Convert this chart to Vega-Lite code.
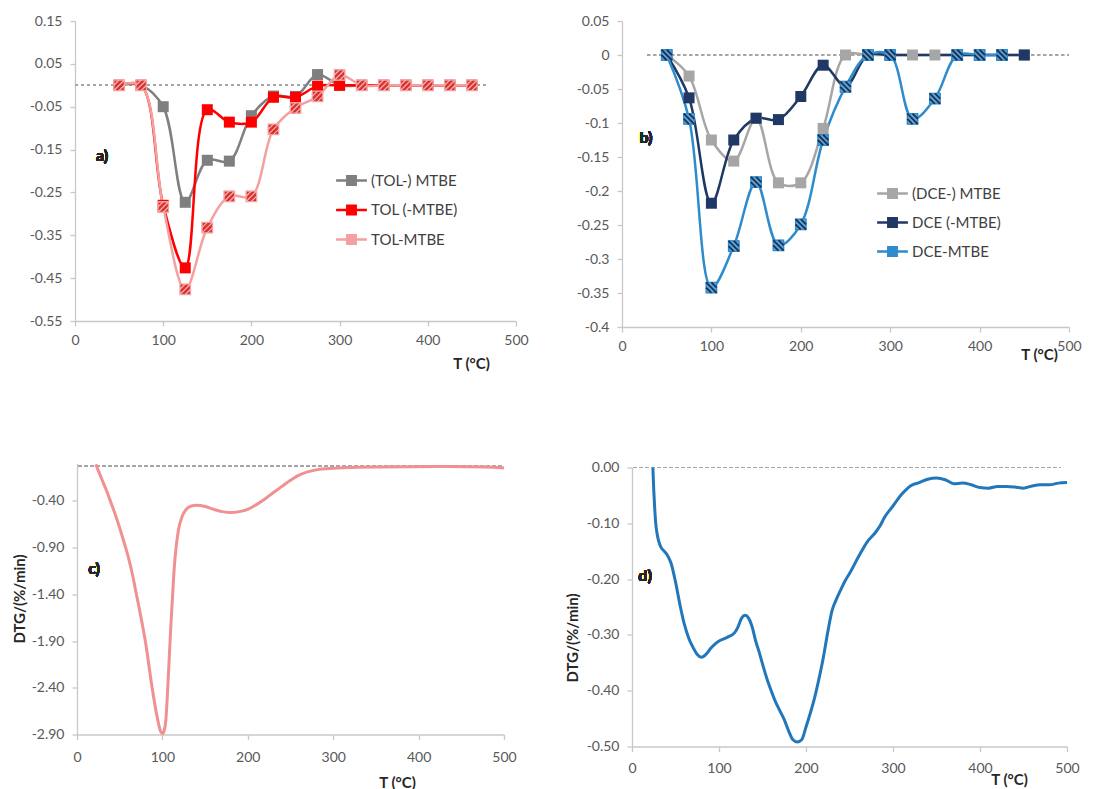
{
  "$schema": "https://vega.github.io/schema/vega-lite/v6.json",
  "background": "white",
  "padding": {"left": 12, "top": 14, "right": 5, "bottom": 0},
  "config": {
    "view": {"stroke": null},
    "font": "Lato",
    "axis": {"grid": false, "domainColor": "#c8c8c8", "domainWidth": 1.3, "tickColor": "#c8c8c8", "tickWidth": 1.3, "tickSize": 5, "labelFont": "Lato", "labelFontSize": 14, "labelColor": "#595959", "labelFlush": false, "labelOverlap": false, "titleFont": "Lato", "titleFontSize": 15, "titleFontWeight": "bold", "titleColor": "#262626"},
    "legend": {"labelFont": "Lato", "labelFontSize": 15, "labelColor": "#404040"}
  },
  "bounds": "flush",
  "columns": 2,
  "align": "each",
  "spacing": {"row": 136.5, "column": 106},
  "resolve": {"scale": {"color": "independent", "x": "independent", "y": "independent"}, "legend": {"color": "independent"}},
  "concat": [
    {
      "width": 441, "height": 300,
      "data": {"values": [
        {"s": "(TOL-) MTBE", "T": 50, "v": 0}, {"s": "(TOL-) MTBE", "T": 75, "v": 0}, {"s": "(TOL-) MTBE", "T": 100, "v": -0.05}, {"s": "(TOL-) MTBE", "T": 125, "v": -0.273}, {"s": "(TOL-) MTBE", "T": 150, "v": -0.175}, {"s": "(TOL-) MTBE", "T": 175, "v": -0.177}, {"s": "(TOL-) MTBE", "T": 200, "v": -0.071}, {"s": "(TOL-) MTBE", "T": 225, "v": -0.025}, {"s": "(TOL-) MTBE", "T": 250, "v": -0.026}, {"s": "(TOL-) MTBE", "T": 275, "v": 0.025}, {"s": "(TOL-) MTBE", "T": 300, "v": 0}, {"s": "(TOL-) MTBE", "T": 325, "v": 0}, {"s": "(TOL-) MTBE", "T": 350, "v": 0}, {"s": "(TOL-) MTBE", "T": 375, "v": 0}, {"s": "(TOL-) MTBE", "T": 400, "v": 0}, {"s": "(TOL-) MTBE", "T": 425, "v": 0}, {"s": "(TOL-) MTBE", "T": 450, "v": 0},
        {"s": "TOL (-MTBE)", "T": 50, "v": 0}, {"s": "TOL (-MTBE)", "T": 75, "v": 0}, {"s": "TOL (-MTBE)", "T": 100, "v": -0.28}, {"s": "TOL (-MTBE)", "T": 125, "v": -0.426}, {"s": "TOL (-MTBE)", "T": 150, "v": -0.057}, {"s": "TOL (-MTBE)", "T": 175, "v": -0.086}, {"s": "TOL (-MTBE)", "T": 200, "v": -0.086}, {"s": "TOL (-MTBE)", "T": 225, "v": -0.028}, {"s": "TOL (-MTBE)", "T": 250, "v": -0.028}, {"s": "TOL (-MTBE)", "T": 275, "v": -0.002}, {"s": "TOL (-MTBE)", "T": 300, "v": 0}, {"s": "TOL (-MTBE)", "T": 325, "v": 0}, {"s": "TOL (-MTBE)", "T": 350, "v": 0}, {"s": "TOL (-MTBE)", "T": 375, "v": 0}, {"s": "TOL (-MTBE)", "T": 400, "v": 0}, {"s": "TOL (-MTBE)", "T": 425, "v": 0}, {"s": "TOL (-MTBE)", "T": 450, "v": 0},
        {"s": "TOL-MTBE", "T": 50, "v": 0}, {"s": "TOL-MTBE", "T": 75, "v": 0}, {"s": "TOL-MTBE", "T": 100, "v": -0.284}, {"s": "TOL-MTBE", "T": 125, "v": -0.476}, {"s": "TOL-MTBE", "T": 150, "v": -0.332}, {"s": "TOL-MTBE", "T": 175, "v": -0.259}, {"s": "TOL-MTBE", "T": 200, "v": -0.259}, {"s": "TOL-MTBE", "T": 225, "v": -0.103}, {"s": "TOL-MTBE", "T": 250, "v": -0.053}, {"s": "TOL-MTBE", "T": 275, "v": -0.026}, {"s": "TOL-MTBE", "T": 300, "v": 0.024}, {"s": "TOL-MTBE", "T": 325, "v": 0}, {"s": "TOL-MTBE", "T": 350, "v": 0}, {"s": "TOL-MTBE", "T": 375, "v": 0}, {"s": "TOL-MTBE", "T": 400, "v": 0}, {"s": "TOL-MTBE", "T": 425, "v": 0}, {"s": "TOL-MTBE", "T": 450, "v": 0}
      ]},
      "layer": [
        {"mark": {"type": "rule", "stroke": "#a6a6a6", "strokeDash": [3, 3], "strokeWidth": 1},
         "encoding": {"x": {"datum": 0, "type": "quantitative"}, "x2": {"datum": 467}, "y": {"datum": 0, "type": "quantitative"}}},
        {"mark": {"type": "line", "interpolate": "catmull-rom", "strokeWidth": 2.5},
         "encoding": {
           "x": {"field": "T", "type": "quantitative", "scale": {"domain": [0, 500], "nice": false}, "axis": {"values": [0, 100, 200, 300, 400, 500], "tickCount": 20, "format": "d", "labelPadding": 7, "labelOverlap": false, "title": "T (°C)", "titleX": 396, "titleY": 42, "titleAlign": "center", "titleBaseline": "middle"}},
           "y": {"field": "v", "type": "quantitative", "scale": {"domain": [-0.55, 0.15], "nice": false, "zero": false}, "axis": {"values": [0.15, 0.05, -0.05, -0.15, -0.25, -0.35, -0.45, -0.55], "tickCount": 20, "labelExpr": "replace(format(datum.value, '.2f'), '\u2212', '-')", "labelPadding": 8, "labelOverlap": false, "title": null}},
           "color": {"field": "s", "type": "nominal", "scale": {"domain": ["(TOL-) MTBE", "TOL (-MTBE)", "TOL-MTBE"], "range": ["#7f7f7f", "#ff0000", "#f4a0a0"]},
             "legend": {"orient": "none", "legendX": 261, "legendY": 144, "title": null, "symbolType": "M-1.1,0H1.1M-0.3,-0.3H0.3V0.3H-0.3Z", "symbolSize": 784, "symbolStrokeWidth": 2.5, "rowPadding": 4.5, "labelOffset": 4}}
         }},
        {"mark": {"type": "point", "shape": "square", "filled": true, "size": 121, "opacity": 1},
         "encoding": {"x": {"field": "T", "type": "quantitative"}, "y": {"field": "v", "type": "quantitative"},
           "color": {"field": "s", "type": "nominal", "legend": {"orient": "none", "legendX": 261, "legendY": 144, "title": null, "symbolType": "M-1.1,0H1.1M-0.3,-0.3H0.3V0.3H-0.3Z", "symbolSize": 784, "symbolStrokeWidth": 2.5, "rowPadding": 4.5, "labelOffset": 4}}}},
        {"transform": [{"filter": "datum.s === 'TOL-MTBE'"}],
         "mark": {"type": "point", "shape": "square", "filled": true, "size": 110, "fill": "#d8312e", "stroke": "#f4a0a0", "strokeWidth": 1.3, "opacity": 1},
         "encoding": {"x": {"field": "T", "type": "quantitative"}, "y": {"field": "v", "type": "quantitative"}}},
        {"transform": [{"filter": "datum.s === 'TOL-MTBE'"}],
         "mark": {"type": "point", "shape": "M-1,0L0,-1M-1,1L1,-1M0,1L1,0", "filled": false, "size": 110, "stroke": "#f7b3b3", "strokeWidth": 1.2, "opacity": 1},
         "encoding": {"x": {"field": "T", "type": "quantitative"}, "y": {"field": "v", "type": "quantitative"}}},
        {"mark": {"type": "text", "font": "Lato", "fontSize": 16, "fontWeight": "bold", "color": "#262626"},
         "encoding": {"x": {"datum": 30.6, "type": "quantitative"}, "y": {"datum": -0.165, "type": "quantitative"}, "text": {"value": "a)"}}}
      ]
    },
    {
      "width": 447, "height": 306,
      "data": {"values": [
        {"s": "(DCE-) MTBE", "T": 50, "v": 0}, {"s": "(DCE-) MTBE", "T": 75, "v": -0.031}, {"s": "(DCE-) MTBE", "T": 100, "v": -0.125}, {"s": "(DCE-) MTBE", "T": 125, "v": -0.156}, {"s": "(DCE-) MTBE", "T": 150, "v": -0.093}, {"s": "(DCE-) MTBE", "T": 175, "v": -0.188}, {"s": "(DCE-) MTBE", "T": 200, "v": -0.188}, {"s": "(DCE-) MTBE", "T": 225, "v": -0.108}, {"s": "(DCE-) MTBE", "T": 250, "v": 0}, {"s": "(DCE-) MTBE", "T": 275, "v": 0}, {"s": "(DCE-) MTBE", "T": 300, "v": 0}, {"s": "(DCE-) MTBE", "T": 325, "v": 0}, {"s": "(DCE-) MTBE", "T": 350, "v": 0}, {"s": "(DCE-) MTBE", "T": 375, "v": 0}, {"s": "(DCE-) MTBE", "T": 400, "v": 0}, {"s": "(DCE-) MTBE", "T": 425, "v": 0}, {"s": "(DCE-) MTBE", "T": 450, "v": 0},
        {"s": "DCE (-MTBE)", "T": 50, "v": 0}, {"s": "DCE (-MTBE)", "T": 75, "v": -0.063}, {"s": "DCE (-MTBE)", "T": 100, "v": -0.218}, {"s": "DCE (-MTBE)", "T": 125, "v": -0.125}, {"s": "DCE (-MTBE)", "T": 150, "v": -0.093}, {"s": "DCE (-MTBE)", "T": 175, "v": -0.095}, {"s": "DCE (-MTBE)", "T": 200, "v": -0.061}, {"s": "DCE (-MTBE)", "T": 225, "v": -0.015}, {"s": "DCE (-MTBE)", "T": 250, "v": -0.046}, {"s": "DCE (-MTBE)", "T": 275, "v": 0}, {"s": "DCE (-MTBE)", "T": 300, "v": 0}, {"s": "DCE (-MTBE)", "T": 375, "v": 0}, {"s": "DCE (-MTBE)", "T": 400, "v": 0}, {"s": "DCE (-MTBE)", "T": 425, "v": 0}, {"s": "DCE (-MTBE)", "T": 450, "v": 0},
        {"s": "DCE-MTBE", "T": 50, "v": 0}, {"s": "DCE-MTBE", "T": 75, "v": -0.094}, {"s": "DCE-MTBE", "T": 100, "v": -0.342}, {"s": "DCE-MTBE", "T": 125, "v": -0.281}, {"s": "DCE-MTBE", "T": 150, "v": -0.187}, {"s": "DCE-MTBE", "T": 175, "v": -0.28}, {"s": "DCE-MTBE", "T": 200, "v": -0.249}, {"s": "DCE-MTBE", "T": 225, "v": -0.125}, {"s": "DCE-MTBE", "T": 250, "v": -0.047}, {"s": "DCE-MTBE", "T": 275, "v": 0}, {"s": "DCE-MTBE", "T": 300, "v": 0}, {"s": "DCE-MTBE", "T": 325, "v": -0.094}, {"s": "DCE-MTBE", "T": 350, "v": -0.064}, {"s": "DCE-MTBE", "T": 375, "v": 0}, {"s": "DCE-MTBE", "T": 400, "v": 0}, {"s": "DCE-MTBE", "T": 425, "v": 0}
      ]},
      "layer": [
        {"mark": {"type": "rule", "stroke": "#a6a6a6", "strokeDash": [3, 3], "strokeWidth": 1},
         "encoding": {"x": {"datum": 28, "type": "quantitative"}, "x2": {"datum": 500}, "y": {"datum": 0, "type": "quantitative"}}},
        {"mark": {"type": "line", "interpolate": "catmull-rom", "strokeWidth": 2.5},
         "encoding": {
           "x": {"field": "T", "type": "quantitative", "scale": {"domain": [0, 500], "nice": false}, "axis": {"values": [0, 100, 200, 300, 400, 500], "tickCount": 20, "format": "d", "labelPadding": 7, "labelOverlap": false, "title": "T (°C)", "titleX": 417, "titleY": 27, "titleAlign": "center", "titleBaseline": "middle"}},
           "y": {"field": "v", "type": "quantitative", "scale": {"domain": [-0.4, 0.05], "nice": false, "zero": false}, "axis": {"values": [0.05, 0, -0.05, -0.1, -0.15, -0.2, -0.25, -0.3, -0.35, -0.4], "tickCount": 20, "labelExpr": "datum.value == 0 ? '0' : replace(format(datum.value, '.2~f'), '\u2212', '-')", "labelPadding": 8, "labelOverlap": false, "title": null}},
           "color": {"field": "s", "type": "nominal", "scale": {"domain": ["(DCE-) MTBE", "DCE (-MTBE)", "DCE-MTBE"], "range": ["#a6a6a6", "#1f3864", "#2e8bcc"]},
             "legend": {"orient": "none", "legendX": 255, "legendY": 157, "title": null, "symbolType": "M-1.1,0H1.1M-0.3,-0.3H0.3V0.3H-0.3Z", "symbolSize": 784, "symbolStrokeWidth": 2.5, "rowPadding": 4, "labelOffset": 4}}
         }},
        {"mark": {"type": "point", "shape": "square", "filled": true, "size": 121, "opacity": 1},
         "encoding": {"x": {"field": "T", "type": "quantitative"}, "y": {"field": "v", "type": "quantitative"},
           "color": {"field": "s", "type": "nominal", "legend": {"orient": "none", "legendX": 255, "legendY": 157, "title": null, "symbolType": "M-1.1,0H1.1M-0.3,-0.3H0.3V0.3H-0.3Z", "symbolSize": 784, "symbolStrokeWidth": 2.5, "rowPadding": 4, "labelOffset": 4}}}},
        {"transform": [{"filter": "datum.s === 'DCE-MTBE'"}],
         "mark": {"type": "point", "shape": "square", "filled": true, "size": 110, "fill": "#5aa7df", "stroke": "#2e8bcc", "strokeWidth": 1.3, "opacity": 1},
         "encoding": {"x": {"field": "T", "type": "quantitative"}, "y": {"field": "v", "type": "quantitative"}}},
        {"transform": [{"filter": "datum.s === 'DCE-MTBE'"}],
         "mark": {"type": "point", "shape": "M-1,0L0,1M-1,-1L1,1M0,-1L1,0", "filled": false, "size": 110, "stroke": "#1f3050", "strokeWidth": 1.8, "opacity": 1},
         "encoding": {"x": {"field": "T", "type": "quantitative"}, "y": {"field": "v", "type": "quantitative"}}},
        {"mark": {"type": "text", "font": "Lato", "fontSize": 16, "fontWeight": "bold", "color": "#262626"},
         "encoding": {"x": {"datum": 26.8, "type": "quantitative"}, "y": {"datum": -0.122, "type": "quantitative"}, "text": {"value": "b)"}}}
      ]
    },
    {
      "width": 429, "height": 271,
      "data": {"values": [
        {"T": 22, "v": -0.01}, {"T": 26, "v": -0.1}, {"T": 30, "v": -0.19}, {"T": 35, "v": -0.3}, {"T": 39, "v": -0.4}, {"T": 45, "v": -0.55}, {"T": 50, "v": -0.69}, {"T": 55, "v": -0.84}, {"T": 60, "v": -1.0}, {"T": 65, "v": -1.19}, {"T": 70, "v": -1.42}, {"T": 75, "v": -1.65}, {"T": 80, "v": -1.9}, {"T": 88, "v": -2.4}, {"T": 94, "v": -2.72}, {"T": 98, "v": -2.87}, {"T": 100, "v": -2.89}, {"T": 102, "v": -2.86}, {"T": 104, "v": -2.75}, {"T": 106, "v": -2.45}, {"T": 108, "v": -2.08}, {"T": 110, "v": -1.72}, {"T": 112, "v": -1.4}, {"T": 114, "v": -1.1}, {"T": 116, "v": -0.9}, {"T": 119, "v": -0.7}, {"T": 123, "v": -0.57}, {"T": 128, "v": -0.49}, {"T": 134, "v": -0.455}, {"T": 140, "v": -0.447}, {"T": 150, "v": -0.46}, {"T": 160, "v": -0.49}, {"T": 170, "v": -0.515}, {"T": 180, "v": -0.525}, {"T": 190, "v": -0.515}, {"T": 200, "v": -0.49}, {"T": 210, "v": -0.44}, {"T": 220, "v": -0.38}, {"T": 230, "v": -0.31}, {"T": 240, "v": -0.245}, {"T": 250, "v": -0.18}, {"T": 260, "v": -0.125}, {"T": 270, "v": -0.09}, {"T": 280, "v": -0.068}, {"T": 292, "v": -0.055}, {"T": 316, "v": -0.044}, {"T": 360, "v": -0.037}, {"T": 420, "v": -0.033}, {"T": 478, "v": -0.037}, {"T": 500, "v": -0.047}
      ]},
      "layer": [
        {"mark": {"type": "rule", "stroke": "#a6a6a6", "strokeDash": [3, 3], "strokeWidth": 1},
         "encoding": {"x": {"datum": 2, "type": "quantitative"}, "x2": {"datum": 500}, "y": {"datum": -0.03, "type": "quantitative"}}},
        {"mark": {"type": "line", "interpolate": "monotone", "strokeWidth": 3, "color": "#f09090"},
         "encoding": {
           "x": {"field": "T", "type": "quantitative", "scale": {"domain": [0, 500], "nice": false, "range": [2, 429]}, "axis": {"values": [0, 100, 200, 300, 400, 500], "tickCount": 20, "format": "d", "labelPadding": 11, "labelOverlap": false, "title": "T (°C)", "titleX": 322, "titleY": 48, "titleAlign": "center", "titleBaseline": "middle"}},
           "y": {"field": "v", "type": "quantitative", "scale": {"domain": [-2.9, 0], "nice": false, "zero": false}, "axis": {"offset": -2, "values": [-0.4, -0.9, -1.4, -1.9, -2.4, -2.9], "tickCount": 20, "labelExpr": "replace(format(datum.value, '.2f'), '\u2212', '-')", "labelPadding": 8, "labelOverlap": false, "title": "DTG/(%/min)", "titleX": -58, "titleY": 135, "titleAngle": -90, "titleAlign": "center", "titleBaseline": "middle"}}
         }},
        {"mark": {"type": "text", "font": "Lato", "fontSize": 16, "fontWeight": "bold", "color": "#262626"},
         "encoding": {"x": {"datum": 20, "type": "quantitative"}, "y": {"datum": -1.134, "type": "quantitative"}, "text": {"value": "c)"}}}
      ]
    },
    {
      "width": 445, "height": 283,
      "data": {"values": [
        {"T": 24, "v": 0}, {"T": 25, "v": -0.04}, {"T": 26, "v": -0.07}, {"T": 27, "v": -0.095}, {"T": 28, "v": -0.11}, {"T": 30, "v": -0.128}, {"T": 33, "v": -0.142}, {"T": 37, "v": -0.15}, {"T": 41, "v": -0.158}, {"T": 45, "v": -0.172}, {"T": 50, "v": -0.205}, {"T": 55, "v": -0.245}, {"T": 60, "v": -0.28}, {"T": 65, "v": -0.305}, {"T": 70, "v": -0.322}, {"T": 75, "v": -0.335}, {"T": 80, "v": -0.34}, {"T": 85, "v": -0.335}, {"T": 90, "v": -0.325}, {"T": 95, "v": -0.317}, {"T": 100, "v": -0.311}, {"T": 110, "v": -0.304}, {"T": 118, "v": -0.296}, {"T": 122, "v": -0.285}, {"T": 126, "v": -0.27}, {"T": 130, "v": -0.265}, {"T": 134, "v": -0.27}, {"T": 138, "v": -0.285}, {"T": 142, "v": -0.31}, {"T": 146, "v": -0.33}, {"T": 150, "v": -0.352}, {"T": 155, "v": -0.378}, {"T": 160, "v": -0.4}, {"T": 165, "v": -0.42}, {"T": 170, "v": -0.436}, {"T": 175, "v": -0.452}, {"T": 180, "v": -0.472}, {"T": 185, "v": -0.488}, {"T": 190, "v": -0.492}, {"T": 195, "v": -0.488}, {"T": 200, "v": -0.465}, {"T": 205, "v": -0.44}, {"T": 210, "v": -0.412}, {"T": 215, "v": -0.378}, {"T": 220, "v": -0.34}, {"T": 225, "v": -0.295}, {"T": 230, "v": -0.256}, {"T": 235, "v": -0.236}, {"T": 240, "v": -0.219}, {"T": 245, "v": -0.203}, {"T": 250, "v": -0.19}, {"T": 260, "v": -0.161}, {"T": 270, "v": -0.134}, {"T": 280, "v": -0.116}, {"T": 285, "v": -0.105}, {"T": 290, "v": -0.09}, {"T": 300, "v": -0.069}, {"T": 310, "v": -0.048}, {"T": 320, "v": -0.033}, {"T": 330, "v": -0.027}, {"T": 340, "v": -0.021}, {"T": 350, "v": -0.019}, {"T": 360, "v": -0.022}, {"T": 370, "v": -0.029}, {"T": 380, "v": -0.028}, {"T": 390, "v": -0.031}, {"T": 400, "v": -0.036}, {"T": 410, "v": -0.037}, {"T": 420, "v": -0.034}, {"T": 430, "v": -0.034}, {"T": 440, "v": -0.035}, {"T": 450, "v": -0.037}, {"T": 460, "v": -0.033}, {"T": 470, "v": -0.031}, {"T": 480, "v": -0.031}, {"T": 490, "v": -0.028}, {"T": 500, "v": -0.027}
      ]},
      "layer": [
        {"mark": {"type": "rule", "stroke": "#a6a6a6", "strokeDash": [3, 3], "strokeWidth": 1},
         "encoding": {"x": {"datum": 2, "type": "quantitative"}, "x2": {"datum": 493}, "y": {"datum": 0, "type": "quantitative"}}},
        {"mark": {"type": "line", "interpolate": "monotone", "strokeWidth": 3, "color": "#2277bb"},
         "encoding": {
           "x": {"field": "T", "type": "quantitative", "scale": {"domain": [0, 500], "nice": false, "range": [10, 445]}, "axis": {"values": [0, 100, 200, 300, 400, 500], "tickCount": 20, "format": "d", "labelPadding": 10, "labelOverlap": false, "title": "T (°C)", "titleX": 387, "titleY": 33, "titleAlign": "center", "titleBaseline": "middle"}},
           "y": {"field": "v", "type": "quantitative", "scale": {"domain": [-0.5, 0], "nice": false, "zero": false, "range": [283, 4]}, "axis": {"offset": -10, "values": [0, -0.1, -0.2, -0.3, -0.4, -0.5], "tickCount": 20, "labelExpr": "replace(format(datum.value, '.2f'), '\u2212', '-')", "labelPadding": 8, "labelOverlap": false, "title": "DTG/(%/min)", "titleX": -60, "titleY": 174, "titleAngle": -90, "titleAlign": "center", "titleBaseline": "middle"}}
         }},
        {"mark": {"type": "text", "font": "Lato", "fontSize": 16, "fontWeight": "bold", "color": "#262626"},
         "encoding": {"x": {"datum": 15, "type": "quantitative"}, "y": {"datum": -0.195, "type": "quantitative"}, "text": {"value": "d)"}}}
      ]
    }
  ]
}
